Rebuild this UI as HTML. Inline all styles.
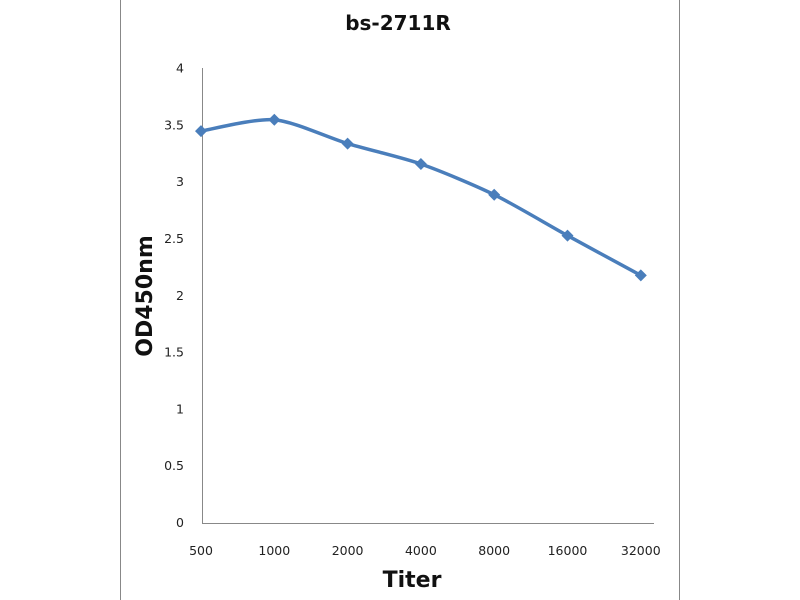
<!DOCTYPE html>
<html><head><meta charset="utf-8"><style>
body{margin:0;background:#fff;}
svg{display:block;font-family:"DejaVu Sans","Liberation Sans",sans-serif;}
</style></head><body>
<svg id="chart" width="800" height="600" viewBox="0 0 800 600">
<line x1="120.5" y1="0" x2="120.5" y2="600" stroke="#888" stroke-width="1"/>
<line x1="679.5" y1="0" x2="679.5" y2="600" stroke="#888" stroke-width="1"/>
<text x="398" y="30" text-anchor="middle" font-size="20" font-weight="bold" fill="#111">bs-2711R</text>
<line x1="202.5" y1="68" x2="202.5" y2="523" stroke="#888"/>
<line x1="202" y1="523.5" x2="654" y2="523.5" stroke="#888"/>
<text transform="translate(152,296) rotate(-90)" text-anchor="middle" font-size="22" font-weight="bold" fill="#111">OD450nm</text>
<text x="412" y="587" text-anchor="middle" font-size="22" font-weight="bold" fill="#111">Titer</text>
<g id="yticks"></g><g id="xticks"></g><g id="series"></g>
</svg>
<script>
const categories=["500","1000","2000","4000","8000","16000","32000"];
const values=[3.45,3.55,3.34,3.16,2.89,2.53,2.18];
const yTicks=[0,0.5,1,1.5,2,2.5,3,3.5,4];
const NS="http://www.w3.org/2000/svg";
function xs(i){return 201+i*73.3;}
function ys(v){return 523-v*113.6;}
const yg=document.getElementById('yticks');
yTicks.forEach(t=>{const e=document.createElementNS(NS,'text');
e.setAttribute('x',184);e.setAttribute('y',ys(t)+4);e.setAttribute('text-anchor','end');
e.setAttribute('font-size','12.5');e.setAttribute('fill','#222');e.textContent=String(t);


yg.appendChild(e);});
const xg=document.getElementById('xticks');
categories.forEach((c,i)=>{const e=document.createElementNS(NS,'text');
e.setAttribute('x',xs(i));e.setAttribute('y',555);e.setAttribute('text-anchor','middle');
e.setAttribute('font-size','12.5');e.setAttribute('fill','#222');e.textContent=c;


xg.appendChild(e);});
const sg=document.getElementById('series');
const pts=values.map((v,i)=>[xs(i),ys(v)]);
let d='M'+pts[0][0]+','+pts[0][1];
for(let i=0;i<pts.length-1;i++){const p0=pts[Math.max(0,i-1)],p1=pts[i],p2=pts[i+1],p3=pts[Math.min(pts.length-1,i+2)];
const k=0.13;
d+=' C'+(p1[0]+(p2[0]-p0[0])*k)+','+(p1[1]+(p2[1]-p0[1])*k)+' '+(p2[0]-(p3[0]-p1[0])*k)+','+(p2[1]-(p3[1]-p1[1])*k)+' '+p2[0]+','+p2[1];}
const path=document.createElementNS(NS,'path');
path.setAttribute('d',d);path.setAttribute('fill','none');path.setAttribute('stroke','#4a7ebb');path.setAttribute('stroke-width','3.5');


sg.appendChild(path);
pts.forEach(p=>{const m=document.createElementNS(NS,'path');
m.setAttribute('d','M'+p[0]+','+(p[1]-6)+' l6,6 l-6,6 l-6,-6 z');m.setAttribute('fill','#4a7ebb');


sg.appendChild(m);});
</script>
</body></html>
